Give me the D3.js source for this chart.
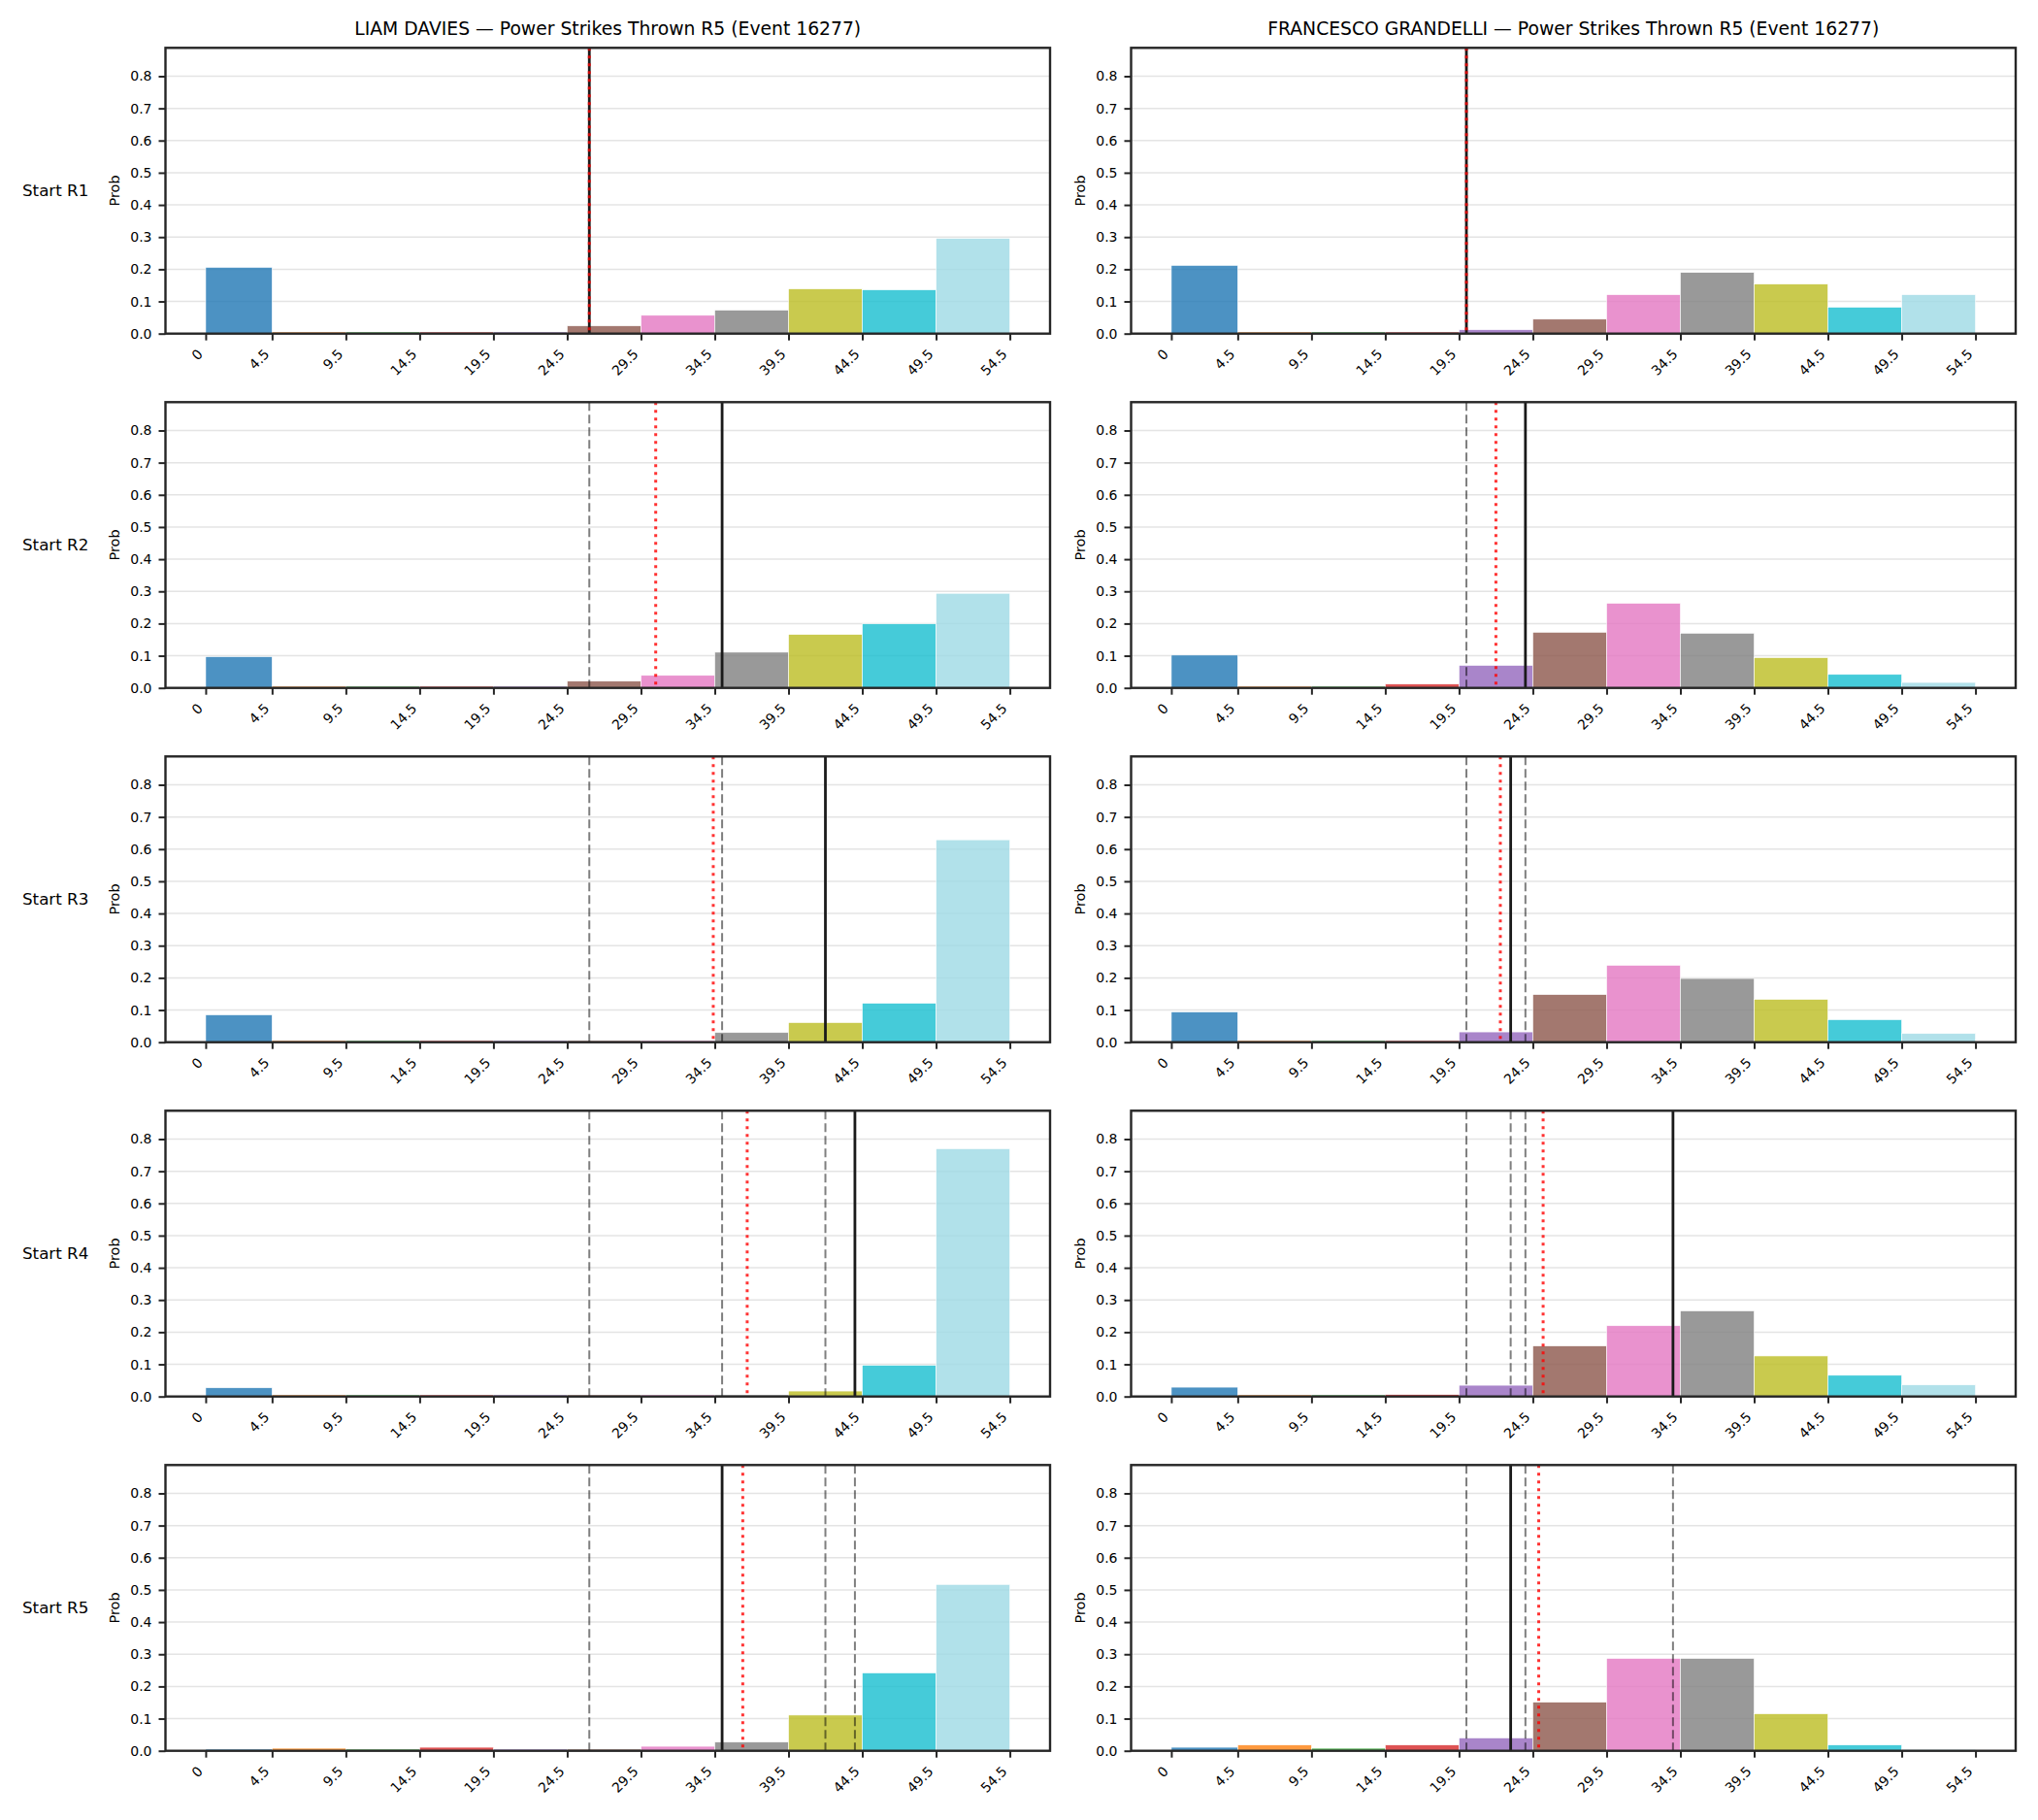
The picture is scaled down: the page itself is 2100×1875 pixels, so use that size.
<!DOCTYPE html>
<html>
<head>
<meta charset="utf-8">
<script src="https://cdn.jsdelivr.net/npm/d3@7/dist/d3.min.js"></script>
<style>
body { margin: 0; background: #fff; }
text { font-family: "DejaVu Sans", sans-serif; fill: #000; }
</style>
</head>
<body>
<div id="chart"></div>
<script>
//----------------------------------------------------------------
// données
//----------------------------------------------------------------
var binEdges = [0, 4.5, 9.5, 14.5, 19.5, 24.5, 29.5, 34.5, 39.5, 44.5, 49.5, 54.5];
var yTicks = [0, 0.1, 0.2, 0.3, 0.4, 0.5, 0.6, 0.7, 0.8];
var rounds = ["Start R1", "Start R2", "Start R3", "Start R4", "Start R5"];
var titles = ["LIAM DAVIES \u2014 Power Strikes Thrown R5 (Event 16277)",
              "FRANCESCO GRANDELLI \u2014 Power Strikes Thrown R5 (Event 16277)"];

var liamProbs = [
    [0.206, 0.005, 0.005, 0.005, 0.005, 0.024, 0.057, 0.073, 0.139, 0.136, 0.296],
    [0.097, 0.005, 0.005, 0.005, 0.005, 0.021, 0.039, 0.111, 0.166, 0.199, 0.294],
    [0.085, 0.005, 0.005, 0.005, 0.005, 0.005, 0.005, 0.030, 0.061, 0.121, 0.629],
    [0.027, 0.005, 0.005, 0.005, 0.005, 0.005, 0.005, 0.005, 0.017, 0.097, 0.770],
    [0.005, 0.008, 0.005, 0.011, 0.005, 0.005, 0.014, 0.027, 0.111, 0.242, 0.517]
];
var francescoProbs = [
    [0.212, 0.005, 0.005, 0.005, 0.012, 0.045, 0.121, 0.190, 0.154, 0.082, 0.121],
    [0.102, 0.005, 0.005, 0.012, 0.070, 0.173, 0.263, 0.170, 0.094, 0.042, 0.017],
    [0.094, 0.005, 0.005, 0.005, 0.032, 0.148, 0.239, 0.198, 0.133, 0.070, 0.027],
    [0.029, 0.005, 0.005, 0.006, 0.035, 0.157, 0.220, 0.266, 0.126, 0.066, 0.036],
    [0.011, 0.018, 0.008, 0.018, 0.040, 0.151, 0.287, 0.287, 0.115, 0.018, 0.004]
];

// lignes verticales : valeur actuelle (noir), ligne (rouge), autres rounds (tirets)
var liamCurrent = [26, 35, 42, 44, 35];
var liamLine = [26, 30.5, 34.4, 36.7, 36.4];
var liamPrev = [[], [26], [26, 35], [26, 35, 42], [26, 42, 44]];
var francescoCurrent = [20, 24, 23, 34, 23];
var francescoLine = [20, 22.0, 22.3, 25.2, 24.9];
var francescoPrev = [[], [20], [20, 24], [20, 23, 24], [20, 24, 34]];

var palette = ["#1f77b4", "#ff7f0e", "#2ca02c", "#d62728", "#9467bd", "#8c564b",
               "#e377c2", "#7f7f7f", "#bcbd22", "#17becf", "#9edae5"];

//----------------------------------------------------------------
// dimensions
//----------------------------------------------------------------
var W = 2100, H = 1875;
var colLeft = [170.5, 1165.5],
    axW = 911.5,
    axH = 294.4,
    rowTop0 = 49.3,
    rowStep = 365;

var svg = d3.select("#chart").append("svg")
    .attr("width", W)
    .attr("height", H);

svg.append("rect").attr("width", W).attr("height", H).attr("fill", "#fff");

var x = d3.scaleLinear().domain([-2.725, 57.225]).range([0, axW]);
var y = d3.scaleLinear().domain([0, 0.888]).range([axH, 0]);

//----------------------------------------------------------------
// dessine un histogramme
//----------------------------------------------------------------
function drawPanel(g, probs, current, line, prev) {
    // grille horizontale
    g.selectAll(".grid")
        .data(yTicks.slice(1))
        .enter().append("line")
        .attr("class", "grid")
        .attr("x1", 0).attr("x2", axW)
        .attr("y1", function(d) { return y(d); })
        .attr("y2", function(d) { return y(d); })
        .attr("stroke", "#e4e4e4")
        .attr("stroke-width", 1.5);

    // barres
    g.selectAll(".bar")
        .data(probs)
        .enter().append("rect")
        .attr("class", "bar")
        .attr("x", function(d, i) { return x(binEdges[i]); })
        .attr("width", function(d, i) { return x(binEdges[i + 1]) - x(binEdges[i]); })
        .attr("y", function(d) { return y(d); })
        .attr("height", function(d) { return axH - y(d); })
        .attr("fill", function(d, i) { return palette[i]; })
        .attr("fill-opacity", 0.8)
        .attr("stroke", "#fff")
        .attr("stroke-width", 0.6);

    // autres rounds (tirets gris)
    g.selectAll(".prev")
        .data(prev)
        .enter().append("line")
        .attr("class", "prev")
        .attr("x1", function(d) { return x(d); })
        .attr("x2", function(d) { return x(d); })
        .attr("y1", 0).attr("y2", axH)
        .attr("stroke", "#000")
        .attr("stroke-opacity", 0.5)
        .attr("stroke-width", 2)
        .attr("stroke-dasharray", "9,4");

    // valeur actuelle
    g.append("line")
        .attr("x1", x(current)).attr("x2", x(current))
        .attr("y1", 0).attr("y2", axH)
        .attr("stroke", "#1a1a1a")
        .attr("stroke-width", 2.8);

    // ligne rouge pointillée
    g.append("line")
        .attr("x1", x(line)).attr("x2", x(line))
        .attr("y1", 0).attr("y2", axH)
        .attr("stroke", "red")
        .attr("stroke-opacity", 0.8)
        .attr("stroke-width", 3)
        .attr("stroke-dasharray", "3,5");

    // axe Y
    var yAxis = g.append("g")
        .call(d3.axisLeft(y).tickValues(yTicks).tickFormat(d3.format(".1f"))
            .tickSize(7).tickPadding(7));
    yAxis.select(".domain").remove();
    yAxis.selectAll("line").attr("stroke", "#262626").attr("stroke-width", 2);
    yAxis.selectAll("text")
        .attr("font-size", "14px")
        .attr("font-family", "DejaVu Sans")
        .attr("fill", "#000");

    // axe X
    var xAxis = g.append("g")
        .attr("transform", "translate(0," + axH + ")")
        .call(d3.axisBottom(x).tickValues(binEdges).tickFormat(function(d) { return String(d); })
            .tickSize(7));
    xAxis.select(".domain").remove();
    xAxis.selectAll("line").attr("stroke", "#262626").attr("stroke-width", 2);
    xAxis.selectAll("text")
        .attr("font-size", "14px")
        .attr("font-family", "DejaVu Sans")
        .attr("fill", "#000")
        .attr("x", 0).attr("y", 0).attr("dy", 0)
        .attr("text-anchor", "end")
        .attr("transform", "translate(-2.5,22) rotate(-45)");

    // cadre
    g.append("rect")
        .attr("width", axW)
        .attr("height", axH)
        .attr("fill", "none")
        .attr("stroke", "#262626")
        .attr("stroke-width", 2.4);

    // label Y
    g.append("text")
        .attr("transform", "translate(-48," + (axH / 2) + ") rotate(-90)")
        .attr("text-anchor", "middle")
        .attr("font-size", "14.5px")
        .text("Prob");
}

//----------------------------------------------------------------
// construction de la grille de graphiques
//----------------------------------------------------------------
var allProbs = [liamProbs, francescoProbs];
var allCurrent = [liamCurrent, francescoCurrent];
var allLine = [liamLine, francescoLine];
var allPrev = [liamPrev, francescoPrev];

for (var r = 0; r < rounds.length; r++) {
    var rowY = rowTop0 + r * rowStep;
    for (var c = 0; c < 2; c++) {
        var panel = svg.append("g")
            .attr("transform", "translate(" + colLeft[c] + "," + rowY + ")");
        drawPanel(panel, allProbs[c][r], allCurrent[c][r], allLine[c][r], allPrev[c][r]);

        if (r == 0) {
            panel.append("text")
                .attr("x", axW / 2)
                .attr("y", -13)
                .attr("text-anchor", "middle")
                .attr("font-size", "18.75px")
                .text(titles[c]);
        }
    }
    // nom du round à gauche
    svg.append("text")
        .attr("x", 23)
        .attr("y", rowY + axH / 2)
        .attr("dy", "0.35em")
        .attr("font-size", "16.7px")
        .text(rounds[r]);
}
</script>
</body>
</html>
